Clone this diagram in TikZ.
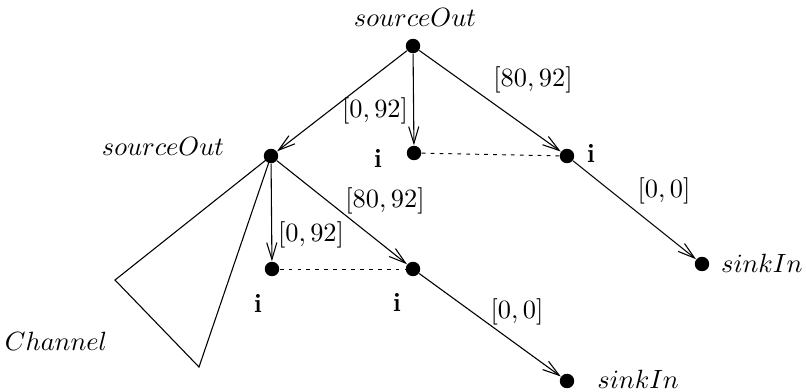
\documentclass[tikz,border=0pt]{standalone}
\usetikzlibrary{arrows.meta}
\begin{document}
\begin{tikzpicture}[x=0.415pt,y=-0.415pt,
  font=\fontsize{11}{13}\selectfont,
  dot/.style={circle,fill=black,inner sep=0pt,minimum size=6pt},
  edgearr/.style={line width=0.45pt,-{Straight Barb[length=7pt,width=4.2pt,line width=0.45pt]}},
  dashline/.style={line width=0.4pt,dash pattern=on 1.6pt off 2.1pt},
  lbl/.style={inner sep=0pt}]
\useasboundingbox (0,0) rectangle (806,391);
% dots
\node[dot] (A) at (413,46) {};
\node[dot] (B) at (271,156) {};
\node[dot] (C) at (414,153) {};
\node[dot] (D) at (567,156) {};
\node[dot] (E) at (702,264) {};
\node[dot] (F) at (272,269) {};
\node[dot] (G) at (413,269) {};
\node[dot] (H) at (567,381) {};
% labels
\node[lbl] (lA) at (415,17) {$sourceOut$};
\node[lbl] (lB) at (163,146) {$sourceOut$};
\node[lbl] (lC) at (378,158) {\textbf{i}};
\node[lbl] (lD) at (591,153) {\textbf{i}};
\node[lbl,anchor=east] (lE) at (803,263) {$sinkIn$};
\node[lbl] (lF) at (258,303) {\textbf{i}};
\node[lbl] (lG) at (397,302) {\textbf{i}};
\node[lbl,anchor=west] (lH) at (597,379) {$sinkIn$};
\node[lbl] (lCh) at (56,341) {$Channel$};
% edges
\draw[edgearr] (A) -- (B);
\draw[edgearr] (A) -- (C);
\draw[edgearr] (A) -- (D);
\draw[edgearr] (B) -- (F);
\draw[edgearr] (B) -- (G);
\draw[edgearr] (D) -- (E);
\draw[edgearr] (G) -- (H);
\draw[dashline] (C) -- (D);
\draw[dashline] (F) -- (G);
% edge labels
\node[lbl] (e1) at (375,111) {$[0,92]$};
\node[lbl] (e2) at (533,80) {$[80,92]$};
\node[lbl] (e3) at (311,235) {$[0,92]$};
\node[lbl] (e4) at (385,201) {$[80,92]$};
\node[lbl] (e5) at (664,191) {$[0,0]$};
\node[lbl] (e6) at (517,312) {$[0,0]$};
% channel triangle
\coordinate (t1) at (115,280);
\coordinate (t2) at (199,367);
\draw[line width=0.45pt] (B.center) -- (t1) -- (t2) -- (B.center);
\end{tikzpicture}
\end{document}
